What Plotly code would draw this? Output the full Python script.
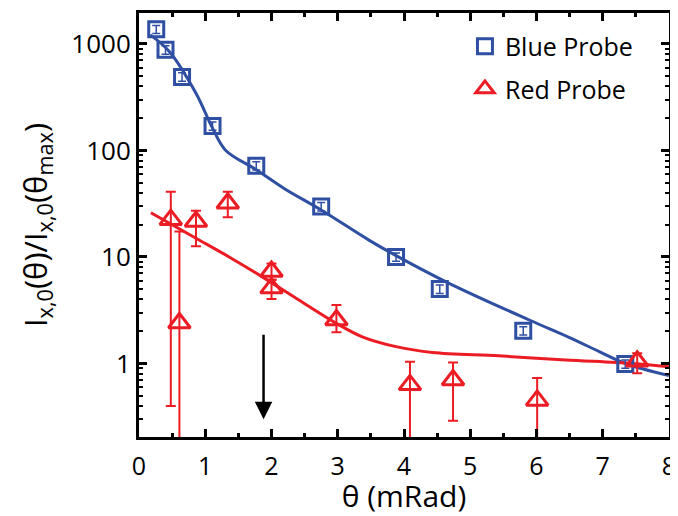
import math
import plotly.graph_objects as go

# ---- data ----
theta_blue = [0.26, 0.40, 0.65, 1.11, 1.77, 2.75, 3.88, 4.54, 5.80, 7.34]
I_blue = [1370, 880, 490, 170, 72, 29.7, 10.0, 5.0, 2.03, 0.99]
err_blue = [120, 80, 45, 15, 6.5, 2.7, 0.9, 0.45, 0.18, 0.09]

theta_red = [0.48, 0.61, 0.86, 1.34, 2.0, 2.0, 2.98, 4.09, 4.74, 6.01, 7.52]
I_red = [22.4, 2.4, 21.5, 31.9, 7.3, 5.1, 2.56, 0.63, 0.70, 0.45, 1.05]
err_red_plus = [18.6, 14.9, 5.7, 9.1, 1.4, 1.0, 0.99, 0.41, 0.32, 0.28, 0.2]
err_red_minus = [22.0, 2.35, 8.9, 8.3, 1.2, 1.07, 0.6, 0.58, 0.41, 0.40, 0.24]

fit_blue_theta = [0.17, 0.46, 0.86, 1.11, 1.31, 1.77, 2.19, 2.75, 3.47, 3.88, 4.68, 5.89, 6.49, 6.94, 7.34, 8.0]
fit_blue_I = [1215, 845, 344, 162, 100, 66, 44, 27.6, 14.4, 10.3, 5.66, 2.56, 1.76, 1.30, 1.0, 0.77]

fit_red_theta = [0.18, 0.86, 1.36, 1.86, 2.37, 2.98, 3.37, 3.88, 4.43, 5.43, 6.44, 7.44, 8.0]
fit_red_I = [26, 15, 10, 6.5, 4.1, 2.38, 1.78, 1.44, 1.27, 1.18, 1.08, 1.0, 0.93]

arrow_theta = 1.88
arrow_from = 1.92
arrow_to = 0.30

x_ticks = [0, 1, 2, 3, 4, 5, 6, 7, 8]
y_ticks = [1, 10, 100, 1000]
y_ticktext = ["1", "10", "100", "1000"]
y_minor = [m * 10 ** e for e in range(-1, 4) for m in range(2, 10)]

BLUE = "#2F4FA2"
RED = "#EC1C24"
FONT = "Open Sans"

fig = go.Figure()

fig.add_trace(go.Scatter(
    x=fit_blue_theta, y=fit_blue_I, mode="lines", line=dict(color=BLUE, width=3, shape="spline"),
    showlegend=False, hoverinfo="skip"))
fig.add_trace(go.Scatter(
    x=fit_red_theta, y=fit_red_I, mode="lines", line=dict(color=RED, width=3, shape="spline"),
    showlegend=False, hoverinfo="skip"))

fig.add_trace(go.Scatter(
    x=theta_blue, y=I_blue, mode="markers", name="Blue Probe", legendgroup="b",
    marker=dict(symbol="square-open", size=15, color=BLUE, line=dict(width=3, color=BLUE)),
    error_y=dict(type="data", array=err_blue, color=BLUE, thickness=1.5, width=4)))
fig.add_trace(go.Scatter(
    x=theta_red, y=I_red, mode="markers", name="Red Probe", legendgroup="r",
    marker=dict(symbol="triangle-up-open", size=19, color=RED, line=dict(width=3, color=RED)),
    error_y=dict(type="data", symmetric=False, array=err_red_plus, arrayminus=err_red_minus,
                 color=RED, thickness=2, width=5)))

fig.add_annotation(
    x=arrow_theta, y=math.log10(arrow_to), ax=arrow_theta, ay=math.log10(arrow_from),
    xref="x", yref="y", axref="x", ayref="y", text="", showarrow=True,
    arrowhead=2, arrowsize=1.4, arrowwidth=2.5, arrowcolor="black")

axis_common = dict(
    showline=True, linecolor="black", linewidth=3, mirror="ticks",
    ticks="inside", ticklen=8, tickwidth=2.5, tickcolor="black",
    showgrid=False, zeroline=False, automargin=False,
)

fig.update_xaxes(
    range=[0, 8], tickvals=x_ticks, ticklabelstandoff=5,
    tickfont=dict(family=FONT, size=25, color="black"),
    title=dict(text="θ (mRad)", font=dict(family=FONT, size=30, color="black"), standoff=17),
    minor=dict(ticks="inside", ticklen=4, tickwidth=2.5, tickcolor="black", dtick=0.5),
    **axis_common)
fig.update_yaxes(
    type="log", range=[-0.69, 3.29], tickvals=y_ticks, ticktext=y_ticktext,
    tickfont=dict(family=FONT, size=26, color="black"),
    title=dict(text="I<sub>x,0</sub>(θ)/I<sub>x,0</sub>(θ<sub>max</sub>)",
               font=dict(family=FONT, size=31, color="black"), standoff=15),
    minor=dict(ticks="inside", ticklen=4, tickwidth=2, tickcolor="black", tickvals=y_minor),
    **axis_common)

# the page body has an 8px margin, so the figure is sized 8px smaller
fig.update_layout(
    width=670, height=508,
    margin=dict(l=131, r=9, t=5, b=79),
    plot_bgcolor="white", paper_bgcolor="white",
    font=dict(family=FONT, color="black"),
    legend=dict(x=0.615, y=0.975, xanchor="left", yanchor="top", bgcolor="rgba(0,0,0,0)",
                font=dict(family=FONT, size=25, color="black"), tracegroupgap=7,
                traceorder="grouped"),
)

fig.write_html("out.html")
